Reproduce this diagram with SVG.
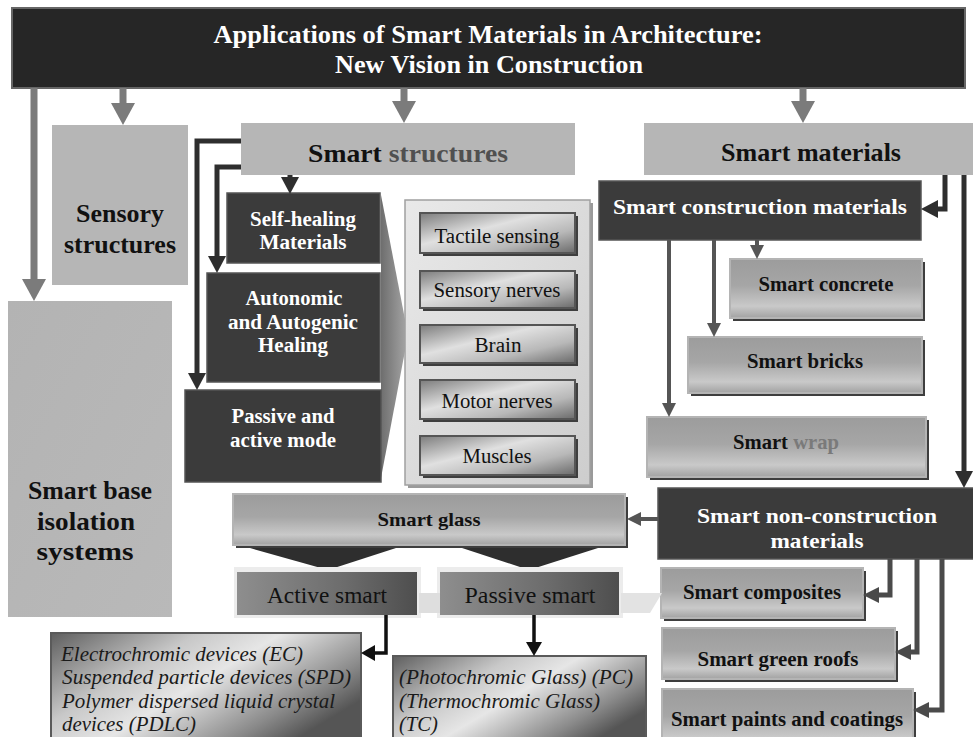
<svg xmlns="http://www.w3.org/2000/svg" width="973" height="737" viewBox="0 0 973 737">
  <style>
    .b { font-weight: bold; }
    .w { fill: #ffffff; }
    .k { fill: #111111; }
    .mid { text-anchor: middle; }
    .it { font-style: italic; fill: #1a1a1a; font-size: 20px; }
    .dark { fill: #3b3b3b; stroke: #555555; stroke-width: 1.5; }
    .lite { fill: #b6b6b6; }
    .bev { fill: url(#gBev); stroke: #b4b4b4; stroke-width: 2; }
    .shadow { fill: #3e3e3e; }
    .tile { fill: url(#gTile); stroke: #555555; stroke-width: 2; }
    .dev { fill: url(#gDev); stroke: #5a5a5a; stroke-width: 2; }
    .act { fill: url(#gAct); }
    .c-gray { fill: none; stroke: #7b7b7b; stroke-width: 7; }
    .c-dark { fill: none; stroke: #2e2e2e; stroke-width: 5; }
    .c-mid { fill: none; stroke: #555555; stroke-width: 4; }
    .c-sm { fill: none; stroke: #4a4a4a; stroke-width: 5; }
    .c-blk { fill: none; stroke: #111111; stroke-width: 3.5; }
  </style>
  <defs>
    <linearGradient id="gBev" x1="0" y1="0" x2="0" y2="1">
      <stop offset="0" stop-color="#9c9c9c"/>
      <stop offset="0.45" stop-color="#a6a6a6"/>
      <stop offset="0.8" stop-color="#c9c9c9"/>
      <stop offset="1" stop-color="#a2a2a2"/>
    </linearGradient>
    <linearGradient id="gTile" x1="0" y1="0" x2="1" y2="1">
      <stop offset="0" stop-color="#7c7c7c"/>
      <stop offset="0.4" stop-color="#e0e0e0"/>
      <stop offset="0.7" stop-color="#b8b8b8"/>
      <stop offset="1" stop-color="#6a6a6a"/>
    </linearGradient>
    <linearGradient id="gDev" x1="0" y1="0" x2="1" y2="0.6">
      <stop offset="0" stop-color="#5e5e5e"/>
      <stop offset="0.35" stop-color="#c8c8c8"/>
      <stop offset="0.55" stop-color="#e6e6e6"/>
      <stop offset="0.85" stop-color="#8a8a8a"/>
      <stop offset="1" stop-color="#555555"/>
    </linearGradient>
    <linearGradient id="gAct" x1="0" y1="0" x2="1" y2="0">
      <stop offset="0" stop-color="#8e8e8e"/>
      <stop offset="0.6" stop-color="#6c6c6c"/>
      <stop offset="1" stop-color="#4e4e4e"/>
    </linearGradient>
    <linearGradient id="gWedge" x1="0" y1="0" x2="1" y2="0">
      <stop offset="0" stop-color="#6e6e6e"/>
      <stop offset="1" stop-color="#a8a8a8"/>
    </linearGradient>
    <linearGradient id="gPanel" x1="0" y1="0" x2="1" y2="1">
      <stop offset="0" stop-color="#e9e9e9"/>
      <stop offset="1" stop-color="#cdcdcd"/>
    </linearGradient>
    <linearGradient id="gBase" x1="0" y1="0" x2="1" y2="1">
      <stop offset="0" stop-color="#b3b3b3"/>
      <stop offset="1" stop-color="#b9b9b9"/>
    </linearGradient>
    <marker id="ahGray" markerUnits="userSpaceOnUse" viewBox="0 -12 22 24" markerWidth="22" markerHeight="24" refX="0" refY="0" orient="auto">
      <path d="M0,-12 L22,0 L0,12 z" fill="#7b7b7b"/>
    </marker>
    <marker id="ahDark" markerUnits="userSpaceOnUse" viewBox="0 -9 17 18" markerWidth="17" markerHeight="18" refX="0" refY="0" orient="auto">
      <path d="M0,-9 L17,0 L0,9 z" fill="#2e2e2e"/>
    </marker>
    <marker id="ahMid" markerUnits="userSpaceOnUse" viewBox="0 -7 14 14" markerWidth="14" markerHeight="14" refX="0" refY="0" orient="auto">
      <path d="M0,-7 L14,0 L0,7 z" fill="#555555"/>
    </marker>
    <marker id="ahSm" markerUnits="userSpaceOnUse" viewBox="0 -8 16 16" markerWidth="16" markerHeight="16" refX="0" refY="0" orient="auto">
      <path d="M0,-8 L16,0 L0,8 z" fill="#4a4a4a"/>
    </marker>
    <marker id="ahBlk" markerUnits="userSpaceOnUse" viewBox="0 -8 14 16" markerWidth="14" markerHeight="16" refX="0" refY="0" orient="auto">
      <path d="M0,-8 L14,0 L0,8 z" fill="#111111"/>
    </marker>
  </defs>

  <rect width="973" height="737" fill="#ffffff"/>

  <g style="font-family:'Liberation Serif', 'Times New Roman', serif">

  <!-- title -->
  <g id="title">
    <rect x="12" y="8" width="953" height="80" fill="#262626" stroke="#666666" stroke-width="2"/>
    <text class="b w mid" x="488" y="43" font-size="26" textLength="549" lengthAdjust="spacingAndGlyphs">Applications of Smart Materials in Architecture:</text>
    <text class="b w mid" x="489" y="73" font-size="26" textLength="308" lengthAdjust="spacingAndGlyphs">New Vision in Construction</text>
  </g>

  <!-- left column -->
  <g id="sensory-structures">
    <rect class="lite" x="52" y="125" width="136" height="160"/>
    <text class="b k mid" x="120" y="222" font-size="25" textLength="88" lengthAdjust="spacingAndGlyphs">Sensory</text>
    <text class="b k mid" x="120" y="253" font-size="25" textLength="112" lengthAdjust="spacingAndGlyphs">structures</text>
  </g>
  <g id="smart-base-isolation">
    <rect x="8" y="301" width="164" height="316" fill="url(#gBase)"/>
    <text class="b k mid" x="90" y="499" font-size="26" textLength="124" lengthAdjust="spacingAndGlyphs">Smart base</text>
    <text class="b k mid" x="86" y="530" font-size="26" textLength="98" lengthAdjust="spacingAndGlyphs">isolation</text>
    <text class="b k mid" x="85" y="560" font-size="26" textLength="97" lengthAdjust="spacingAndGlyphs">systems</text>
  </g>

  <!-- smart structures branch -->
  <g id="smart-structures">
    <rect class="lite" x="241" y="123" width="334" height="52"/>
    <text class="b k mid" x="408" y="162" font-size="26" textLength="200" lengthAdjust="spacingAndGlyphs">Smart <tspan fill="#505050">structures</tspan></text>
  </g>
  <g id="wedge">
    <polygon points="381,195 408,335 381,478" fill="url(#gWedge)"/>
  </g>
  <g id="self-healing">
    <rect class="dark" x="227" y="193" width="153" height="70"/>
    <text class="b w mid" x="303" y="226" font-size="20" textLength="106" lengthAdjust="spacingAndGlyphs">Self-healing</text>
    <text class="b w mid" x="303" y="249" font-size="20" textLength="87" lengthAdjust="spacingAndGlyphs">Materials</text>
  </g>
  <g id="autonomic-healing">
    <rect class="dark" x="207" y="273" width="173" height="109"/>
    <text class="b w mid" x="294" y="305" font-size="20" textLength="97" lengthAdjust="spacingAndGlyphs">Autonomic</text>
    <text class="b w mid" x="293" y="329" font-size="20" textLength="130" lengthAdjust="spacingAndGlyphs">and Autogenic</text>
    <text class="b w mid" x="293" y="352" font-size="20" textLength="70" lengthAdjust="spacingAndGlyphs">Healing</text>
  </g>
  <g id="passive-active-mode">
    <rect class="dark" x="185" y="390" width="196" height="92"/>
    <text class="b w mid" x="283" y="423" font-size="20" textLength="103" lengthAdjust="spacingAndGlyphs">Passive and</text>
    <text class="b w mid" x="283" y="447" font-size="20" textLength="106" lengthAdjust="spacingAndGlyphs">active mode</text>
  </g>

  <g id="sensing-panel">
    <rect x="408" y="203" width="185" height="285" fill="#9a9a9a"/>
    <rect x="405" y="200" width="185" height="285" fill="url(#gPanel)" stroke="#a0a0a0" stroke-width="1.5"/>
  </g>
  <g id="tactile-sensing">
    <rect class="shadow" x="423" y="216" width="155" height="40"/>
    <rect class="tile" x="420" y="213" width="155" height="40"/>
    <text class="k mid" x="497" y="243" font-size="20" textLength="125" lengthAdjust="spacingAndGlyphs">Tactile sensing</text>
  </g>
  <g id="sensory-nerves">
    <rect class="shadow" x="423" y="274" width="155" height="37"/>
    <rect class="tile" x="420" y="271" width="155" height="37"/>
    <text class="k mid" x="497" y="297" font-size="20" textLength="127" lengthAdjust="spacingAndGlyphs">Sensory nerves</text>
  </g>
  <g id="brain">
    <rect class="shadow" x="423" y="328" width="155" height="38"/>
    <rect class="tile" x="420" y="325" width="155" height="38"/>
    <text class="k mid" x="498" y="352" font-size="20" textLength="47" lengthAdjust="spacingAndGlyphs">Brain</text>
  </g>
  <g id="motor-nerves">
    <rect class="shadow" x="423" y="383" width="155" height="39"/>
    <rect class="tile" x="420" y="380" width="155" height="39"/>
    <text class="k mid" x="497" y="408" font-size="20" textLength="111" lengthAdjust="spacingAndGlyphs">Motor nerves</text>
  </g>
  <g id="muscles">
    <rect class="shadow" x="423" y="439" width="155" height="39"/>
    <rect class="tile" x="420" y="436" width="155" height="39"/>
    <text class="k mid" x="497" y="463" font-size="20" textLength="69" lengthAdjust="spacingAndGlyphs">Muscles</text>
  </g>

  <!-- smart materials branch -->
  <g id="smart-materials">
    <rect class="lite" x="644" y="123" width="329" height="52"/>
    <text class="b k mid" x="811" y="161" font-size="26" textLength="180" lengthAdjust="spacingAndGlyphs">Smart materials</text>
  </g>
  <g id="smart-construction-materials">
    <rect class="dark" x="599" y="181" width="322" height="59"/>
    <text class="b w mid" x="760" y="214" font-size="22" textLength="294" lengthAdjust="spacingAndGlyphs">Smart construction materials</text>
  </g>
  <g id="smart-concrete">
    <rect class="shadow" x="733" y="262" width="192" height="59"/>
    <rect class="bev" x="730" y="259" width="192" height="59"/>
    <text class="b k mid" x="826" y="291" font-size="20" textLength="135" lengthAdjust="spacingAndGlyphs">Smart concrete</text>
  </g>
  <g id="smart-bricks">
    <rect class="shadow" x="691" y="340" width="234" height="56"/>
    <rect class="bev" x="688" y="337" width="234" height="56"/>
    <text class="b k mid" x="805" y="368" font-size="20" textLength="116" lengthAdjust="spacingAndGlyphs">Smart bricks</text>
  </g>
  <g id="smart-wrap">
    <rect class="shadow" x="650" y="420" width="279" height="60"/>
    <rect class="bev" x="647" y="417" width="279" height="60"/>
    <text class="b k mid" x="786" y="449" font-size="20" textLength="106" lengthAdjust="spacingAndGlyphs">Smart <tspan fill="#7a7a7a">wrap</tspan></text>
  </g>
  <g id="smart-non-construction-materials">
    <rect class="dark" x="658" y="488" width="316" height="71"/>
    <text class="b w mid" x="817" y="523" font-size="22" textLength="240" lengthAdjust="spacingAndGlyphs">Smart non-construction</text>
    <text class="b w mid" x="817" y="548" font-size="22" textLength="93" lengthAdjust="spacingAndGlyphs">materials</text>
  </g>
  <g id="smart-composites">
    <rect class="shadow" x="664" y="571" width="202" height="50"/>
    <rect class="bev" x="661" y="568" width="202" height="50"/>
    <text class="b k mid" x="762" y="599" font-size="20" textLength="158" lengthAdjust="spacingAndGlyphs">Smart composites</text>
  </g>
  <g id="smart-green-roofs">
    <rect class="shadow" x="665" y="631" width="233" height="51"/>
    <rect class="bev" x="662" y="628" width="233" height="51"/>
    <text class="b k mid" x="778" y="666" font-size="20" textLength="161" lengthAdjust="spacingAndGlyphs">Smart green roofs</text>
  </g>
  <g id="smart-paints-coatings">
    <rect class="shadow" x="665" y="692" width="251" height="60"/>
    <rect class="bev" x="662" y="689" width="251" height="60"/>
    <text class="b k mid" x="787" y="726" font-size="20" textLength="232" lengthAdjust="spacingAndGlyphs">Smart paints and coatings</text>
  </g>

  <!-- smart glass branch -->
  <g id="smart-glass">
    <rect class="shadow" x="236" y="497" width="392" height="51"/>
    <rect class="bev" x="233" y="494" width="392" height="51"/>
    <text class="b k mid" x="429" y="526" font-size="19" textLength="103" lengthAdjust="spacingAndGlyphs">Smart glass</text>
    <polygon points="250,548 396,548 328,570" fill="#2e2e2e"/>
    <polygon points="462,548 598,548 529,570" fill="#2e2e2e"/>
  </g>
  <g id="glass-backdrop">
    <rect x="234" y="567" width="187" height="51" fill="#ececec"/>
    <rect x="437" y="567" width="186" height="51" fill="#ececec"/>
    <polygon points="419,593 457,593 445,613 419,613" fill="#dedede"/>
    <polygon points="621,593 662,593 650,613 621,613" fill="#e3e3e3"/>
  </g>
  <g id="active-smart">
    <rect class="act" x="237" y="572" width="180" height="43"/>
    <text class="k mid" x="327" y="603" font-size="23" textLength="120" lengthAdjust="spacingAndGlyphs">Active smart</text>
  </g>
  <g id="passive-smart">
    <rect class="act" x="440" y="572" width="179" height="43"/>
    <text class="k mid" x="530" y="603" font-size="23" textLength="131" lengthAdjust="spacingAndGlyphs">Passive smart</text>
  </g>
  <g id="active-devices">
    <rect class="dev" x="51" y="633" width="310" height="112"/>
    <text class="it" x="61" y="661" textLength="242" lengthAdjust="spacingAndGlyphs">Electrochromic devices (EC)</text>
    <text class="it" x="62" y="684" textLength="289" lengthAdjust="spacingAndGlyphs">Suspended particle devices (SPD)</text>
    <text class="it" x="62" y="708" textLength="273" lengthAdjust="spacingAndGlyphs">Polymer dispersed liquid crystal</text>
    <text class="it" x="62" y="731" textLength="134" lengthAdjust="spacingAndGlyphs">devices (PDLC)</text>
  </g>
  <g id="passive-devices">
    <rect class="dev" x="393" y="656" width="253" height="90"/>
    <text class="it" x="399" y="684" textLength="234" lengthAdjust="spacingAndGlyphs">(Photochromic Glass) (PC)</text>
    <text class="it" x="399" y="708" textLength="201" lengthAdjust="spacingAndGlyphs">(Thermochromic Glass)</text>
    <text class="it" x="399" y="731" textLength="39" lengthAdjust="spacingAndGlyphs">(TC)</text>
  </g>

  </g>

  <!-- connectors -->
  <g id="connectors">
    <path class="c-gray" d="M34,88 V279" marker-end="url(#ahGray)"/>
    <path class="c-gray" d="M123,88 V103" marker-end="url(#ahGray)"/>
    <path class="c-gray" d="M404,88 V101" marker-end="url(#ahGray)"/>
    <path class="c-gray" d="M803,88 V101" marker-end="url(#ahGray)"/>

    <path class="c-dark" d="M241,141 H197 V373" marker-end="url(#ahDark)"/>
    <path class="c-dark" d="M241,167 H217 V256" marker-end="url(#ahDark)"/>
    <path class="c-dark" d="M290,175 V177" marker-end="url(#ahDark)"/>

    <path class="c-dark" d="M945,175 V209 H938" marker-end="url(#ahDark)"/>
    <path class="c-dark" d="M964,175 V471" marker-end="url(#ahDark)"/>

    <path class="c-mid" d="M757,240 V245" marker-end="url(#ahMid)"/>
    <path class="c-mid" d="M714,240 V323" marker-end="url(#ahMid)"/>
    <path class="c-mid" d="M669,240 V403" marker-end="url(#ahMid)"/>

    <path class="c-sm" d="M890,559 V595 H879" marker-end="url(#ahSm)"/>
    <path class="c-sm" d="M917,559 V652 H911" marker-end="url(#ahSm)"/>
    <path class="c-sm" d="M942,559 V710 H929" marker-end="url(#ahSm)"/>

    <path class="c-mid" d="M658,519 H641" marker-end="url(#ahMid)"/>

    <path class="c-blk" d="M386,615 V653 H375" marker-end="url(#ahBlk)"/>
    <path class="c-blk" d="M534,615 V642" marker-end="url(#ahBlk)"/>
  </g>
</svg>
